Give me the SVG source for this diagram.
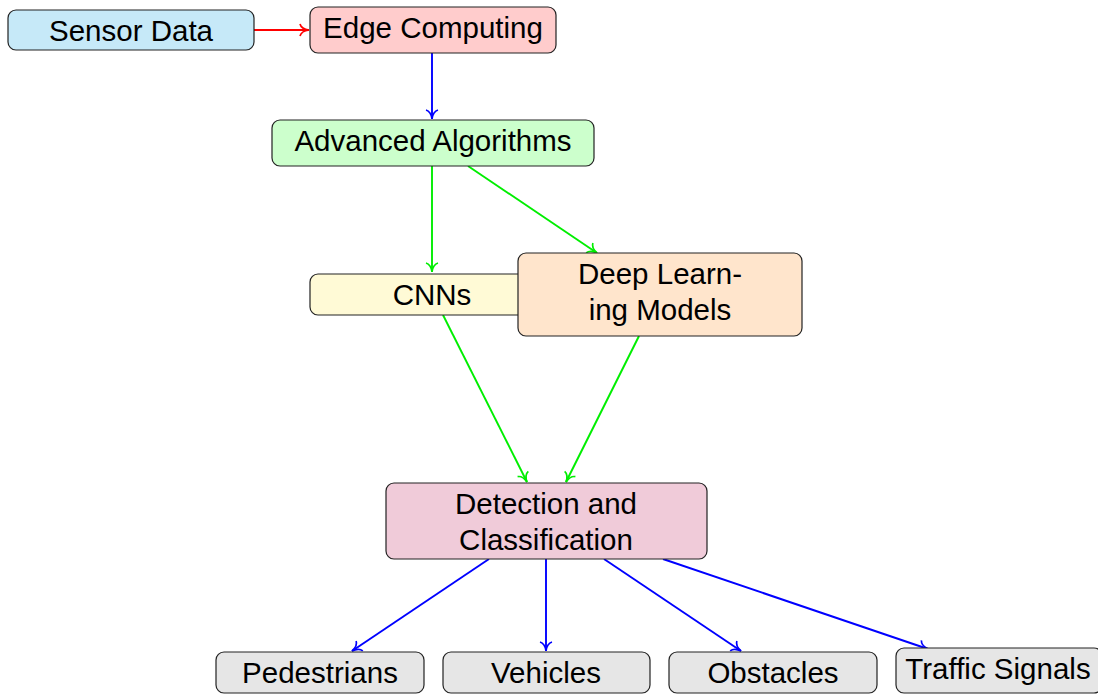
<svg xmlns="http://www.w3.org/2000/svg" width="1098" height="694" viewBox="0 0 1098 694">
<defs>
<style>
.n{stroke:#222;stroke-width:1.2}
.t{font-family:"Liberation Sans",Arial,sans-serif;font-size:29.5px;fill:#000;text-anchor:middle}
.c{fill:none;stroke-width:1.9}
</style>
<marker id="ar" viewBox="-11 -7 13 14" refX="0" refY="0" markerWidth="13" markerHeight="14" markerUnits="userSpaceOnUse" orient="auto">
<path d="M-9,-6 C-8,-2.2 -3.5,-0.5 0,0 C-3.5,0.5 -8,2.2 -9,6" fill="none" stroke="context-stroke" stroke-width="1.7"/>
</marker>
</defs>
<g id="connectors">
<path class="c" stroke="#ff0000" d="M254,30 L309,30" marker-end="url(#ar)"/>
<path class="c" stroke="#0000ff" d="M432,53 L432,119" marker-end="url(#ar)"/>
<path class="c" stroke="#00ee00" d="M432,166 L432,272" marker-end="url(#ar)"/>
<path class="c" stroke="#00ee00" d="M468,166 L597,253" marker-end="url(#ar)"/>
<path class="c" stroke="#00ee00" d="M443,315 L527,482" marker-end="url(#ar)"/>
<path class="c" stroke="#00ee00" d="M639,336 L566,482" marker-end="url(#ar)"/>
<path class="c" stroke="#0000ff" d="M489,559 L352,651" marker-end="url(#ar)"/>
<path class="c" stroke="#0000ff" d="M546,559 L546,651" marker-end="url(#ar)"/>
<path class="c" stroke="#0000ff" d="M604,559 L741,651" marker-end="url(#ar)"/>
<path class="c" stroke="#0000ff" d="M663,559 L928,649" marker-end="url(#ar)"/>
</g>
<g id="sensor"><rect class="n" x="8" y="10" width="246" height="40" rx="8" fill="#c6e9f8"/><text class="t" x="131" y="41">Sensor Data</text></g>
<g id="edge"><rect class="n" x="310" y="7" width="246" height="46" rx="8" fill="#ffcccc"/><text class="t" x="433" y="38">Edge Computing</text></g>
<g id="advanced"><rect class="n" x="272" y="120" width="322" height="46" rx="8" fill="#ccffcc"/><text class="t" x="433" y="151">Advanced Algorithms</text></g>
<g id="cnns"><rect class="n" x="310" y="274" width="244" height="41" rx="8" fill="#fffad6"/><text class="t" x="432" y="305">CNNs</text></g>
<g id="deep"><rect class="n" x="518" y="253" width="284" height="83" rx="8" fill="#ffe5cc"/><text class="t" x="660" y="284">Deep Learn-</text><text class="t" x="660" y="320">ing Models</text></g>
<g id="detection"><rect class="n" x="386" y="483" width="321" height="76" rx="8" fill="#f0cbd9"/><text class="t" x="546" y="514">Detection and</text><text class="t" x="546" y="550">Classification</text></g>
<g id="pedestrians"><rect class="n" x="216" y="652" width="208" height="41" rx="8" fill="#e6e6e6"/><text class="t" x="320" y="683">Pedestrians</text></g>
<g id="vehicles"><rect class="n" x="443" y="652" width="207" height="41" rx="8" fill="#e6e6e6"/><text class="t" x="546" y="683">Vehicles</text></g>
<g id="obstacles"><rect class="n" x="669" y="652" width="208" height="41" rx="8" fill="#e6e6e6"/><text class="t" x="773" y="683">Obstacles</text></g>
<g id="traffic"><rect class="n" x="896" y="648" width="206" height="45" rx="8" fill="#e6e6e6"/><text class="t" x="998" y="679">Traffic Signals</text></g>
</svg>
